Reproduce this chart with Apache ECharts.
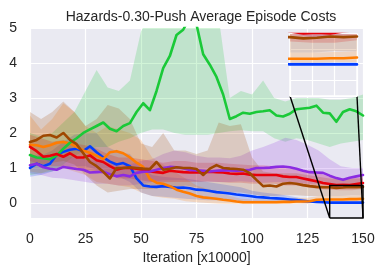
<!DOCTYPE html>
<html><head><meta charset="utf-8">
<script src="https://cdn.jsdelivr.net/npm/echarts@6/dist/echarts.min.js"></script>
<style>html,body{margin:0;padding:0;background:#fff}#c{width:385px;height:275px}</style>
</head><body><div id="c"></div>
<script>
const TITLE = 'Hazards-0.30-Push Average Episode Costs';
const X_LABEL = 'Iteration [x10000]';
const X_TICK_INTERVAL = 25;
const NAMES = ['Blue', 'Orange', 'Green', 'Red', 'Purple', 'Brown'];
const COLORS = ['#023eff', '#ff7c00', '#1ac938', '#e8000b', '#8b2be2', '#9f4800'];

const X_MEAN = [0,3,6,9,12,15,18,21,24,27,30,33,36,39,42,45,48,51,54,57,60,63,66,69,72,75,78,81,84,87,90,93,96,99,102,105,108,111,114,117,120,123,126,129,132,135,138,141,144,147,150];
const X_BAND = [0,5,10,15,20,25,30,35,40,45,50,55,60,65,70,75,80,85,90,95,100,105,110,115,120,125,130,135,140,145,150];

const BLUE_MEAN = [1.0,1.12,1.05,1.12,1.38,1.46,1.52,1.55,1.48,1.62,1.45,1.3,1.18,1.1,1.14,1.05,0.7,0.5,0.47,0.46,0.48,0.46,0.43,0.44,0.42,0.38,0.37,0.34,0.31,0.29,0.27,0.24,0.22,0.2,0.17,0.16,0.14,0.13,0.12,0.1,0.08,0.06,0.04,0.03,0.02,0.01,0.01,0.01,0.01,0.01,0.01];
const ORANGE_MEAN = [1.66,1.65,1.6,1.65,1.72,1.74,1.7,1.6,1.5,1.43,1.35,1.25,1.45,1.48,1.42,1.3,1.15,1.03,0.68,0.58,0.55,0.48,0.38,0.32,0.27,0.2,0.16,0.14,0.12,0.09,0.07,0.04,0.02,0.02,0.02,0.02,0.02,0.02,0.03,0.03,0.04,0.04,0.05,0.09,0.1,0.1,0.1,0.1,0.11,0.11,0.12];
const GREEN_MEAN = [1.37,1.3,1.28,1.25,1.35,1.55,1.72,1.85,2.0,2.1,2.2,2.3,2.12,2.05,2.2,2.28,2.6,2.85,2.65,3.2,3.85,4.2,4.8,4.95,5.3,5.1,4.25,3.95,3.6,3.1,2.4,2.48,2.58,2.55,2.6,2.62,2.65,2.5,2.47,2.55,2.68,2.7,2.72,2.78,2.58,2.56,2.32,2.6,2.68,2.62,2.5];
const RED_MEAN = [1.6,1.48,1.32,1.35,1.4,1.32,1.42,1.3,1.3,1.36,1.22,1.17,1.05,0.95,1.0,1.0,0.98,0.95,0.9,0.88,0.86,0.92,0.9,0.88,0.87,0.88,0.87,0.89,0.88,0.87,0.84,0.83,0.84,0.81,0.8,0.8,0.8,0.8,0.76,0.74,0.74,0.7,0.66,0.62,0.57,0.54,0.51,0.52,0.51,0.54,0.57];
const PURPLE_MEAN = [1.08,1.12,1.02,0.98,0.95,1.03,1.0,0.97,0.95,0.87,0.88,0.89,0.82,0.76,0.8,0.76,0.86,0.89,0.9,0.95,1.0,1.03,1.02,0.99,0.94,0.93,0.92,0.9,0.92,0.93,0.93,0.92,0.93,0.95,1.0,1.0,1.01,1.03,1.04,1.02,0.98,0.92,0.88,0.87,0.86,0.78,0.71,0.66,0.72,0.76,0.8];
const BROWN_MEAN = [1.74,1.8,1.92,1.94,1.87,2.0,1.8,1.68,1.42,1.17,1.05,0.89,0.7,1.0,1.0,1.02,1.0,0.98,0.97,1.17,0.95,0.98,1.02,1.0,1.0,0.97,0.8,0.98,1.08,1.0,0.98,0.97,0.95,0.85,0.66,0.48,0.5,0.47,0.55,0.57,0.55,0.51,0.48,0.46,0.45,0.45,0.43,0.44,0.46,0.45,0.46];

const BLUE_LO = [0.75,0.8,0.9,1.0,1.05,1.05,0.95,0.85,0.75,0.6,0.3,0.2,0.18,0.15,0.12,0.1,0.08,0.08,0.06,0.05,0.03,0.03,0.02,0.01,0.0,-0.01,-0.01,-0.01,-0.01,-0.01,-0.01];
const BLUE_HI = [1.3,1.35,1.5,1.75,1.95,2.0,2.0,1.6,1.45,1.4,1.0,0.8,0.75,0.72,0.7,0.65,0.6,0.55,0.5,0.45,0.35,0.3,0.26,0.22,0.16,0.1,0.06,0.04,0.04,0.04,0.04];
const ORANGE_LO = [0.9,0.85,0.95,1.0,0.9,0.8,0.6,0.55,0.5,0.45,0.3,0.2,0.15,0.12,0.05,0.02,0.0,-0.02,-0.03,-0.03,-0.03,-0.03,-0.03,-0.03,-0.02,-0.02,0.03,0.04,0.04,0.05,0.05];
const ORANGE_HI = [2.5,2.1,2.4,2.85,2.6,2.2,2.0,2.2,2.1,2.0,1.8,1.3,1.1,0.9,0.7,0.5,0.4,0.3,0.2,0.12,0.1,0.1,0.1,0.12,0.14,0.15,0.2,0.2,0.2,0.21,0.22];
const GREEN_LO = [0.8,0.85,0.9,1.1,1.35,1.5,1.6,1.6,1.75,1.85,2.0,2.1,2.1,2.0,1.95,1.95,1.95,2.0,2.05,2.08,2.05,2.05,1.85,1.75,1.85,1.8,1.7,1.6,1.7,1.75,1.8];
const GREEN_HI = [2.0,1.9,2.0,2.3,2.6,3.2,3.8,3.3,3.2,3.5,4.9,5.5,6.0,6.5,6.8,6.5,6.0,5.3,3.0,3.2,3.1,3.5,3.0,2.9,3.0,3.0,3.0,2.95,2.95,3.0,3.1];
const RED_LO = [1.2,1.1,1.05,1.05,1.0,0.95,0.9,0.8,0.7,0.7,0.65,0.6,0.6,0.6,0.6,0.6,0.62,0.6,0.58,0.58,0.55,0.55,0.55,0.5,0.5,0.45,0.4,0.38,0.36,0.36,0.4];
const RED_HI = [1.95,1.85,1.75,1.8,1.7,1.65,1.55,1.4,1.3,1.3,1.25,1.2,1.15,1.2,1.2,1.15,1.15,1.15,1.12,1.1,1.08,1.08,1.05,1.0,0.98,0.92,0.85,0.75,0.7,0.7,0.75];
const PURPLE_LO = [0.85,0.8,0.72,0.7,0.65,0.6,0.55,0.55,0.5,0.5,0.55,0.6,0.65,0.65,0.65,0.62,0.6,0.6,0.6,0.62,0.6,0.58,0.6,0.6,0.58,0.55,0.55,0.5,0.45,0.48,0.5];
const PURPLE_HI = [1.35,1.4,1.3,1.35,1.3,1.25,1.2,1.15,1.05,1.1,1.2,1.25,1.4,1.5,1.45,1.35,1.3,1.3,1.28,1.35,1.5,1.6,1.72,1.86,1.8,1.66,1.5,1.25,1.05,1.0,1.0];
const BROWN_LO = [1.0,1.1,1.15,1.2,1.1,0.8,0.5,0.3,0.35,0.4,0.4,0.4,0.45,0.45,0.5,0.45,0.35,0.35,0.3,0.3,0.25,0.2,0.2,0.22,0.22,0.2,0.2,0.2,0.2,0.22,0.22];
const BROWN_HI = [2.6,2.4,2.6,2.9,2.6,2.2,2.4,2.8,2.7,2.4,1.7,1.6,2.0,1.5,1.5,1.4,1.5,2.3,2.2,2.25,1.3,0.9,0.85,0.85,0.85,0.8,0.75,0.7,0.68,0.7,0.7];

const MAIN_X = [0, 150];
const MAIN_Y = [-0.43, 5];
const INSET_X = [135, 150];
const INSET_Y = [-0.5, 0.5];

const ALGOS = [
  {mean: BLUE_MEAN, lo: BLUE_LO, hi: BLUE_HI},
  {mean: ORANGE_MEAN, lo: ORANGE_LO, hi: ORANGE_HI},
  {mean: GREEN_MEAN, lo: GREEN_LO, hi: GREEN_HI},
  {mean: RED_MEAN, lo: RED_LO, hi: RED_HI},
  {mean: PURPLE_MEAN, lo: PURPLE_LO, hi: PURPLE_HI},
  {mean: BROWN_MEAN, lo: BROWN_LO, hi: BROWN_HI}
];

const FONT = "'Liberation Sans', Arial, sans-serif";
const TXT = '#262626';
function pairs(xs, ys) { return xs.map((x, i) => [x, ys[i]]); }

function bandRenderer(a, color) {
  return function (params, api) {
    if (params.dataIndex !== 0) return null;
    const upper = X_BAND.map((x, i) => api.coord([x, a.hi[i]]));
    const lower = X_BAND.map((x, i) => api.coord([x, a.lo[i]])).reverse();
    const cs = params.coordSys;
    return {
      type: 'group',
      clipPath: {type: 'rect', shape: {x: cs.x, y: cs.y, width: cs.width, height: cs.height}},
      children: [{
        type: 'polygon',
        shape: {points: upper.concat(lower)},
        style: {fill: color, opacity: 0.2, stroke: null}
      }]
    };
  };
}

const series = [];
[0, 1].forEach(g => {
  ALGOS.forEach((a, k) => {
    series.push({
      type: 'custom', name: NAMES[k] + ' band', xAxisIndex: g, yAxisIndex: g, zlevel: g, z: 2,
      silent: true, encode: {x: 0, y: [1, 2]},
      data: X_BAND.map((x, i) => [x, a.lo[i], a.hi[i]]),
      renderItem: bandRenderer(a, COLORS[k])
    });
  });
  ALGOS.forEach((a, k) => {
    series.push({
      type: 'line', name: NAMES[k], xAxisIndex: g, yAxisIndex: g, zlevel: g, z: 3,
      data: pairs(X_MEAN, a.mean), symbol: 'none', silent: true, clip: true,
      lineStyle: {color: COLORS[k], width: 2.6, join: 'round', cap: 'round'}
    });
  });
});

const chart = echarts.init(document.getElementById('c'), null, {renderer: 'canvas'});
chart.setOption({
  animation: false,
  backgroundColor: '#ffffff',
  title: {
    text: TITLE, left: 196, top: 5, textAlign: 'center',
    textStyle: {fontFamily: FONT, fontSize: 14, fontWeight: 'normal', color: TXT}
  },
  grid: [
    {left: 30, top: 28, width: 333, height: 190, show: true, backgroundColor: '#EAEAF2', borderWidth: 0, containLabel: false},
    {left: 290, top: 34, width: 67, height: 62, show: true, backgroundColor: '#EAEAF2', borderColor: '#ffffff', borderWidth: 1.5, zlevel: 1, z: 0}
  ],
  xAxis: [
    {
      type: 'value', gridIndex: 0, min: MAIN_X[0], max: MAIN_X[1], interval: X_TICK_INTERVAL,
      name: X_LABEL, nameLocation: 'middle', nameGap: 32,
      nameTextStyle: {fontFamily: FONT, fontSize: 14, color: TXT},
      axisLine: {show: false}, axisTick: {show: false},
      axisLabel: {fontFamily: FONT, fontSize: 14, color: TXT, margin: 14},
      splitLine: {show: true, lineStyle: {color: '#ffffff', width: 1.2}}
    },
    {
      type: 'value', gridIndex: 1, min: INSET_X[0], max: INSET_X[1], interval: 5, zlevel: 1,
      axisLine: {show: false}, axisTick: {show: false}, axisLabel: {show: false},
      splitLine: {show: true, lineStyle: {color: '#ffffff', width: 1.2}}
    }
  ],
  yAxis: [
    {
      type: 'value', gridIndex: 0, min: MAIN_Y[0], max: MAIN_Y[1],
      axisLine: {show: false}, axisTick: {show: false},
      axisLabel: {fontFamily: FONT, fontSize: 14, color: TXT, margin: 13, showMinLabel: false},
      splitLine: {show: true, lineStyle: {color: '#ffffff', width: 1.2}}
    },
    {
      type: 'value', gridIndex: 1, min: INSET_Y[0], max: INSET_Y[1], interval: 0.25, zlevel: 1,
      axisLine: {show: false}, axisTick: {show: false}, axisLabel: {show: false},
      splitLine: {show: true, lineStyle: {color: '#ffffff', width: 1.2}}
    }
  ],
  series: series
});

const yb = Math.max(INSET_Y[0], MAIN_Y[0]);
const yt = Math.min(INSET_Y[1], MAIN_Y[1]);
const bl = chart.convertToPixel({gridIndex: 0}, [INSET_X[0], yb]);
const br = chart.convertToPixel({gridIndex: 0}, [INSET_X[1], yb]);
const tl = chart.convertToPixel({gridIndex: 0}, [INSET_X[0], yt]);
const tr = chart.convertToPixel({gridIndex: 0}, [INSET_X[1], yt]);
const ibl = chart.convertToPixel({gridIndex: 1}, [INSET_X[0], INSET_Y[0]]);
const ibr = chart.convertToPixel({gridIndex: 1}, [INSET_X[1], INSET_Y[0]]);
const ls = {stroke: '#000000', lineWidth: 1.4, fill: null};
chart.setOption({
  graphic: [
    {type: 'polyline', zlevel: 0, z: 50, silent: true, shape: {points: [bl, tl, tr, br, bl]}, style: ls},
    {type: 'polyline', zlevel: 0, z: 50, silent: true, shape: {points: [ibl, bl]}, style: ls},
    {type: 'polyline', zlevel: 0, z: 50, silent: true, shape: {points: [ibr, br]}, style: ls}
  ]
});
</script>
</body></html>
